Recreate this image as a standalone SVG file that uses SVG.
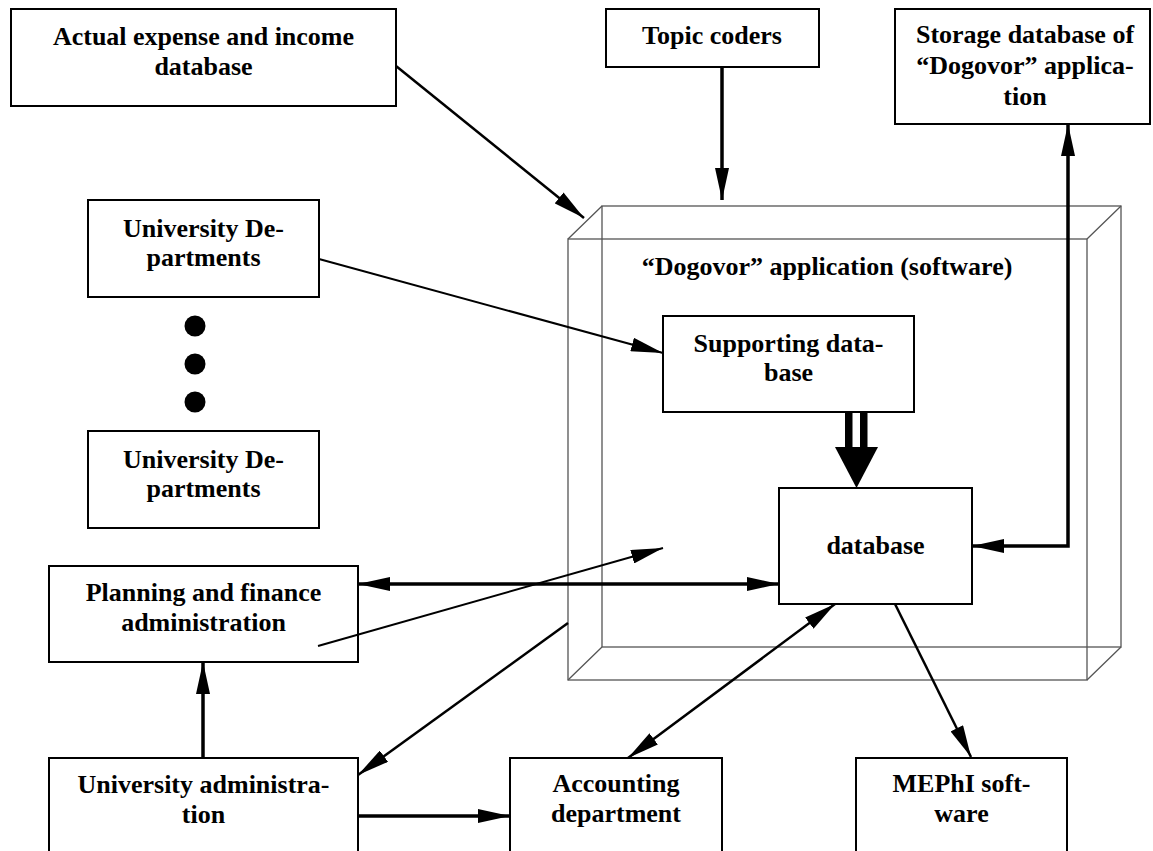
<svg xmlns="http://www.w3.org/2000/svg" width="1153" height="851" viewBox="0 0 1153 851">
<style>
.box{fill:#fff;stroke:#000;stroke-width:2}
.t{font-family:"Liberation Serif","Times New Roman",serif;font-weight:bold;font-size:26px;text-anchor:middle;fill:#000}
.cube{fill:none;stroke:#555;stroke-width:1.3}
.thick{fill:none;stroke:#000;stroke-width:3.5}
.mid{fill:none;stroke:#000;stroke-width:2.5}
.thin{fill:none;stroke:#000;stroke-width:2}
</style>
<defs>
<marker id="ah" markerUnits="userSpaceOnUse" markerWidth="32" markerHeight="14" refX="32" refY="7" orient="auto-start-reverse" viewBox="0 0 32 14">
<path d="M0,0 L32,7 L0,14 z" fill="#000"/>
</marker>
</defs>
<rect width="1153" height="851" fill="#fff"/>

<g id="app-cube">
<rect class="cube" x="602" y="206" width="519" height="441"/>
<rect class="cube" x="568" y="239" width="519" height="441"/>
<path class="cube" d="M568,239 L602,206 M1087,239 L1121,206 M568,680 L602,647 M1087,680 L1121,647"/>
<text class="t" x="827" y="275">“Dogovor” application (software)</text>
</g>

<g id="actual-expense">
<rect class="box" x="11" y="9" width="385" height="97"/>
<text class="t" x="203.5" y="45">Actual expense and income</text>
<text class="t" x="203.5" y="75">database</text>
</g>

<g id="topic-coders">
<rect class="box" x="606" y="9" width="213" height="58"/>
<text class="t" x="712" y="44">Topic coders</text>
</g>

<g id="storage-db">
<rect class="box" x="895" y="9" width="255" height="115"/>
<text class="t" x="1025" y="43">Storage database of</text>
<text class="t" x="1025" y="74">“Dogovor” applica-</text>
<text class="t" x="1025" y="105">tion</text>
</g>

<g id="univ-dep-1">
<rect class="box" x="88" y="200" width="231" height="97"/>
<text class="t" x="203.5" y="237">University De-</text>
<text class="t" x="203.5" y="266">partments</text>
</g>

<g id="dots">
<circle cx="195" cy="326" r="10.5" fill="#000"/>
<circle cx="195" cy="364" r="10.5" fill="#000"/>
<circle cx="195" cy="402" r="10.5" fill="#000"/>
</g>

<g id="univ-dep-2">
<rect class="box" x="88" y="431" width="231" height="97"/>
<text class="t" x="203.5" y="468">University De-</text>
<text class="t" x="203.5" y="497">partments</text>
</g>

<g id="supporting-db">
<rect class="box" x="663" y="316" width="251" height="96"/>
<text class="t" x="788.5" y="352">Supporting data-</text>
<text class="t" x="788.5" y="381">base</text>
</g>

<g id="database">
<rect class="box" x="779" y="488" width="193" height="116"/>
<text class="t" x="875.5" y="554">database</text>
</g>

<g id="planning">
<rect class="box" x="49" y="566" width="309" height="96"/>
<text class="t" x="203.5" y="601">Planning and finance</text>
<text class="t" x="203.5" y="631">administration</text>
</g>

<g id="univ-admin">
<rect class="box" x="49" y="758" width="309" height="110"/>
<text class="t" x="203.5" y="793">University administra-</text>
<text class="t" x="203.5" y="823">tion</text>
</g>

<g id="accounting">
<rect class="box" x="510" y="758" width="212" height="110"/>
<text class="t" x="616" y="792">Accounting</text>
<text class="t" x="616" y="822">department</text>
</g>

<g id="mephi">
<rect class="box" x="856" y="758" width="211" height="110"/>
<text class="t" x="961.5" y="792">MEPhI soft-</text>
<text class="t" x="961.5" y="822">ware</text>
</g>

<g id="connectors">
<path class="mid" d="M396,66 L584,218" marker-end="url(#ah)"/>
<path class="thick" d="M722,67 L722,200" marker-end="url(#ah)"/>
<path class="thick" d="M972,546 L1068,546 L1068,124" marker-start="url(#ah)" marker-end="url(#ah)"/>
<path class="thin" d="M319,259 L663,353" marker-end="url(#ah)"/>
<g id="double-arrow">
<rect x="845" y="412" width="7.5" height="36" fill="#000"/>
<rect x="860" y="412" width="7.5" height="36" fill="#000"/>
<polygon points="835,447 878,447 856.5,488" fill="#000"/>
</g>
<path class="thick" d="M358,584 L779,584" marker-start="url(#ah)" marker-end="url(#ah)"/>
<path class="thin" d="M318,646 L663,548" marker-end="url(#ah)"/>
<path class="mid" d="M568,623 L358,775" marker-end="url(#ah)"/>
<path class="mid" d="M835,604 L628,758" marker-start="url(#ah)" marker-end="url(#ah)"/>
<path class="mid" d="M895,604 L971,757" marker-end="url(#ah)"/>
<path class="thick" d="M203,758 L203,662" marker-end="url(#ah)"/>
<path class="thick" d="M358,816 L510,816" marker-end="url(#ah)"/>
</g>
</svg>
